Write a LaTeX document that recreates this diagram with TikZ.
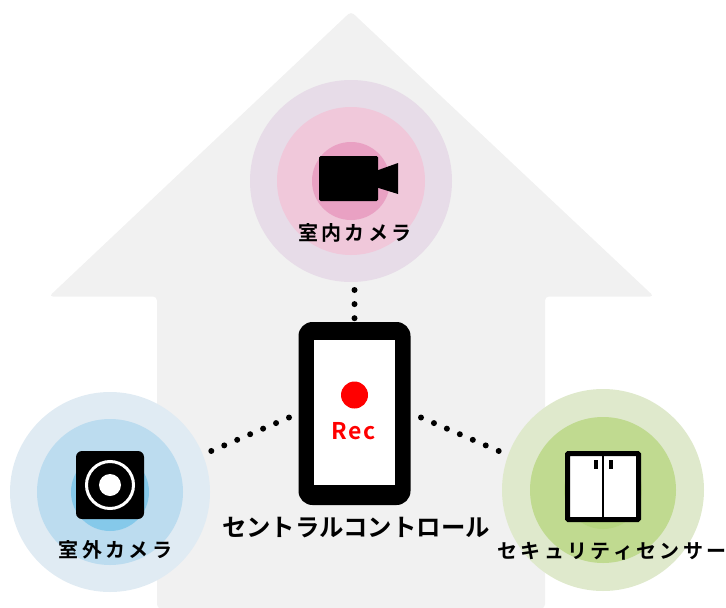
\documentclass[tikz,border=0pt]{standalone}
\usepackage{fontspec}
\setmainfont{Noto Sans CJK JP}
\newfontfamily\lblfont[LetterSpace=17]{Noto Sans CJK JP Bold}
\newfontfamily\ctrfont{Noto Sans CJK JP Bold}
\newfontfamily\recfont[LetterSpace=6]{Noto Sans CJK JP Bold}
\definecolor{house}{HTML}{F1F1F1}
\definecolor{pA}{HTML}{E7DCE8}\definecolor{pB}{HTML}{F0C8DA}\definecolor{pC}{HTML}{E9A1C3}
\definecolor{bA}{HTML}{E0EBF3}\definecolor{bB}{HTML}{BCDCEF}\definecolor{bC}{HTML}{85C9EA}
\definecolor{gA}{HTML}{DFE9CC}\definecolor{gB}{HTML}{C0DA90}\definecolor{gC}{HTML}{B6D67F}
\tikzset{
  disc/.style={circle,inner sep=0pt,outer sep=0pt,minimum size=#1},
  dotline/.style={line width=6pt,line cap=round,dash pattern=on 0pt off 14.1pt},
  lbl/.style={inner sep=0pt,font=\lblfont\fontsize{20}{20}\selectfont},
}
\begin{document}
\begin{tikzpicture}[x=1pt,y=-1pt]
\useasboundingbox (0,0) rectangle (726,608);
% house
\fill[house,rounded corners=4pt] (351,11.5) -- (654,296.5) -- (545,296.5) -- (545,608.5) -- (157,608.5) -- (157,296.5) -- (49,296.5) -- cycle;
% top
\node[disc=202pt,fill=pA] (topA) at (351,181) {};
\node[disc=148pt,fill=pB] (topB) at (351,181) {};
\node[disc=78pt,fill=pC] (topC) at (351,181) {};
\fill[rounded corners=1.5pt] (319,156) rectangle (378,201);
\fill (377,170.5) -- (398,163) -- (398,194) -- (377,187.5) -- cycle;
\node[lbl] (topL) at (355,233) {室内カメラ};
% left
\node[disc=200pt,fill=bA] (leftA) at (110,492) {};
\node[disc=146pt,fill=bB] (leftB) at (110,492) {};
\node[disc=78pt,fill=bC] (leftC) at (110,492) {};
\fill[rounded corners=6pt] (76,451) rectangle (144,519);
\draw[white,line width=3pt] (110,485) circle (23.5pt);
\fill[white] (110,485) circle (11pt);
\node[lbl] (leftL) at (115.5,550) {室外カメラ};
% right
\node[disc=202pt,fill=gA] (rightA) at (603,490) {};
\node[disc=146pt,fill=gB] (rightB) at (603,490) {};
\node[disc=78pt,fill=gC] (rightC) at (603,490) {};
\fill[white] (567,453) rectangle (639,520);
\draw[line width=5pt,rounded corners=1pt] (567.5,453.5) rectangle (638.5,519.5);
\draw[line width=2pt] (603,453) -- (603,520);
\fill (594,460) rectangle (598,469);
\fill (609,460) rectangle (613,469);
\node[lbl] (rightL) at (612,551) {セキュリティセンサー};
% phone
\node[draw=none,fill=black,rounded corners=14pt,minimum width=112pt,minimum height=183pt,inner sep=0pt,outer sep=0pt] (phone) at (354.5,413.5) {};
\fill[white] (314,340) rectangle (395,485);
\node[disc=27pt,fill=red] (recdot) at (354.5,395) {};
\node[inner sep=0pt,text=red,font=\recfont\fontsize{23}{23}\selectfont] (rec) at (353.5,431) {Rec};
\node[inner sep=0pt,font=\ctrfont\fontsize{24.4}{24.4}\selectfont] (ctr) at (356,528) {セントラルコントロール};
% connectors
\coordinate (pT) at (354.5,318.6);
\coordinate (cT) at (354.5,290);
\coordinate (pL) at (289,417.5);
\coordinate (cL) at (210.8,451.2);
\coordinate (pR) at (421,417.5);
\coordinate (cR) at (499.2,451.2);
\draw[dotline] (cT) -- (pT);
\draw[dotline] (pL) -- (cL);
\draw[dotline] (pR) -- (cR);
\end{tikzpicture}
\end{document}
